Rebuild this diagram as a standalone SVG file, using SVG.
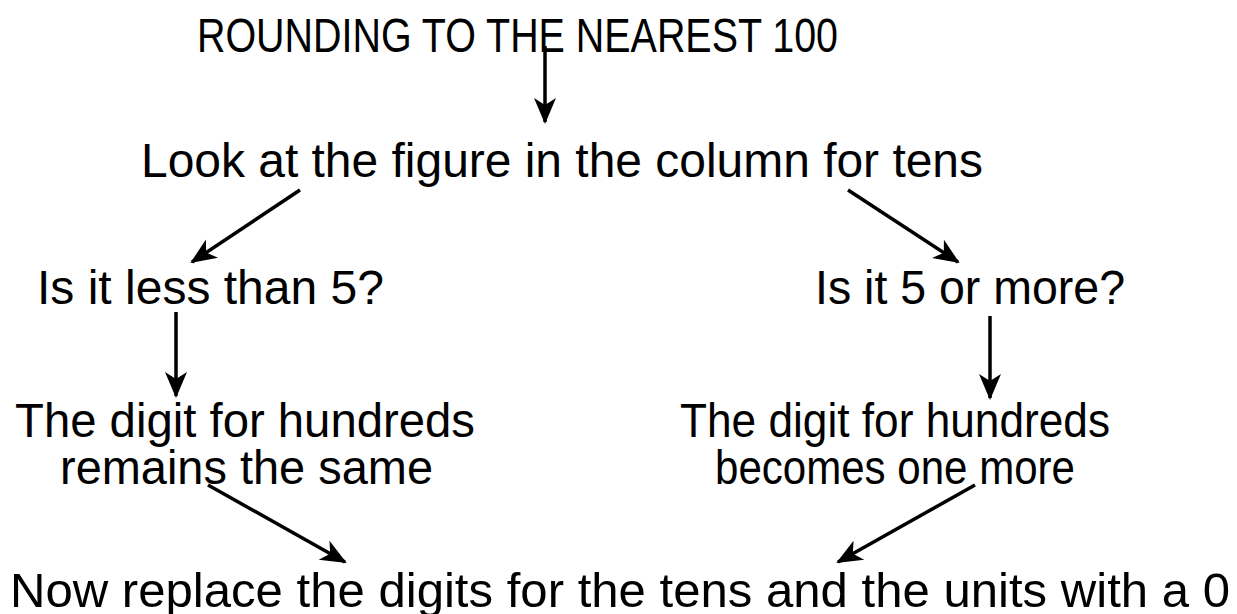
<svg xmlns="http://www.w3.org/2000/svg" width="1237" height="614" viewBox="0 0 1237 614">
<style>
text{font-family:"Liberation Sans",Arial,sans-serif;font-size:48px;fill:#000}
.c line{stroke:#000;stroke-width:3.5;marker-end:url(#ah)}
</style>
<defs>
<marker id="ah" viewBox="0 0 26 24" refX="24" refY="12" markerWidth="26" markerHeight="24" orient="auto" markerUnits="userSpaceOnUse">
<path d="M0,1 L26,12 L0,23 L7,12 Z" fill="#000"/>
</marker>
</defs>
<rect width="1237" height="614" fill="#fff"/>
<g id="title"><text x="197" y="52" textLength="641" lengthAdjust="spacingAndGlyphs">ROUNDING TO THE NEAREST 100</text></g>
<g id="look"><text x="141" y="177" textLength="842" lengthAdjust="spacingAndGlyphs">Look at the figure in the column for tens</text></g>
<g id="less"><text x="37" y="304" textLength="347" lengthAdjust="spacingAndGlyphs">Is it less than 5?</text></g>
<g id="more"><text x="815" y="304" textLength="310" lengthAdjust="spacingAndGlyphs">Is it 5 or more?</text></g>
<g id="same"><text x="15" y="437" textLength="460" lengthAdjust="spacingAndGlyphs">The digit for hundreds</text><text x="60" y="484" textLength="373" lengthAdjust="spacingAndGlyphs">remains the same</text></g>
<g id="onemore"><text x="680" y="437" textLength="430" lengthAdjust="spacingAndGlyphs">The digit for hundreds</text><text x="715" y="484" textLength="360" lengthAdjust="spacingAndGlyphs">becomes one more</text></g>
<g id="replace"><text x="10" y="607" textLength="1220" lengthAdjust="spacingAndGlyphs">Now replace the digits for the tens and the units with a 0</text></g>
<g class="c" id="connectors">
<line x1="545" y1="46" x2="545" y2="122"/>
<line x1="300" y1="190" x2="192" y2="262"/>
<line x1="848" y1="190" x2="958" y2="262"/>
<line x1="176" y1="312" x2="176" y2="396"/>
<line x1="990" y1="316" x2="990" y2="398"/>
<line x1="208" y1="485" x2="345" y2="562"/>
<line x1="975" y1="485" x2="838" y2="562"/>
</g>
</svg>
